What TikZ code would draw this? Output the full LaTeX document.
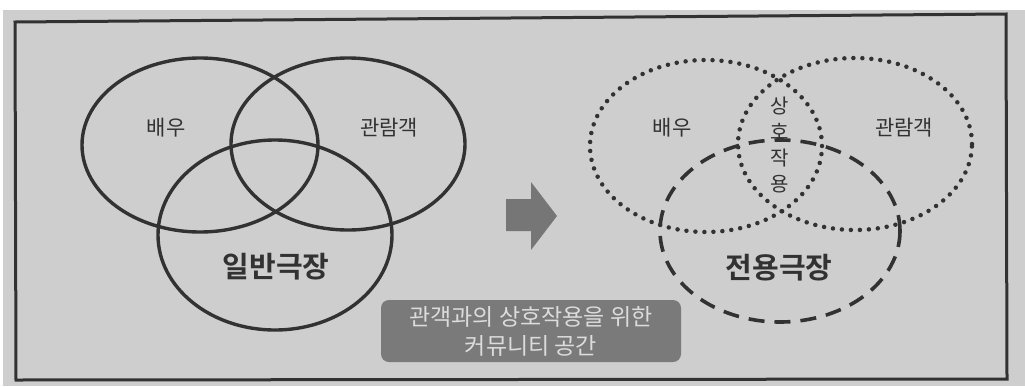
\documentclass[tikz,border=0pt]{standalone}
\usepackage{fontspec}
\setmainfont{Noto Sans CJK KR}
\newfontfamily\krbold{Noto Sans CJK KR Bold}
\usetikzlibrary{shapes.geometric}
\definecolor{bg}{RGB}{206,206,206}
\definecolor{ink}{RGB}{50,50,50}
\definecolor{boxfill}{RGB}{122,122,122}
\definecolor{arrfill}{RGB}{118,118,118}
\definecolor{boxtext}{RGB}{220,220,220}
\tikzset{
  ell/.style={ellipse, draw=ink, line width=3.4pt, inner sep=0pt},
  dotell/.style={ellipse, draw=ink, line width=4.5pt, inner sep=0pt, dash pattern=on 0pt off 9pt, line cap=round},
  dashell/.style={ellipse, draw=ink, line width=3.6pt, inner sep=0pt, dash pattern=on 16pt off 10pt},
  lbl/.style={text=ink, font=\fontsize{21}{24}\selectfont},
  big/.style={text=ink, font=\krbold\fontsize{29}{32}\selectfont},
}
\begin{document}
\begin{tikzpicture}[x=1pt,y=-1pt]
\useasboundingbox (0,0) rectangle (1025,386);
\fill[white] (0,0) rectangle (1025,386);
\fill[bg] (3,10) rectangle (1025,386);
\draw[ink, line width=3pt] (15,22) -- (1006,14) -- (1007,379) -- (16,380) -- cycle;
% left diagram
\node[ell, minimum width=236pt, minimum height=174pt] (a1) at (200,145) {};
\node[ell, minimum width=234pt, minimum height=172pt] (b1) at (348,144) {};
\node[ell, minimum width=234pt, minimum height=190pt] (c1) at (275,235) {};
\node[lbl] (ta1) at (166,128) {배우};
\node[lbl] (tb1) at (389,128) {관람객};
\node[big] (tc1) at (276,267) {일반극장};
% arrow
\fill[arrfill] (506,199) -- (531,199) -- (531,182) -- (557,216) -- (531,250) -- (531,231) -- (506,231) -- cycle;
% right diagram
\node[dotell, minimum width=232pt, minimum height=172pt] (a2) at (706,146) {};
\node[dotell, minimum width=234pt, minimum height=172pt] (b2) at (855,144) {};
\node[dashell, minimum width=240pt, minimum height=182pt] (c2) at (780,231) {};
\node[lbl] (ta2) at (672,128) {배우};
\node[lbl] (tb2) at (904,128) {관람객};
\node[lbl, align=center, font=\fontsize{20}{26}\selectfont] (tm2) at (780,145) {상\\호\\작\\용};
\node[big] (tc2) at (779,268) {전용극장};
% bottom box
\node[fill=boxfill, rounded corners=8pt, minimum width=300pt, minimum height=62pt, align=center, text=boxtext, font=\fontsize{23}{29}\selectfont, inner sep=0pt] (box) at (531,331) {관객과의 상호작용을 위한\\커뮤니티 공간};
\end{tikzpicture}
\end{document}
